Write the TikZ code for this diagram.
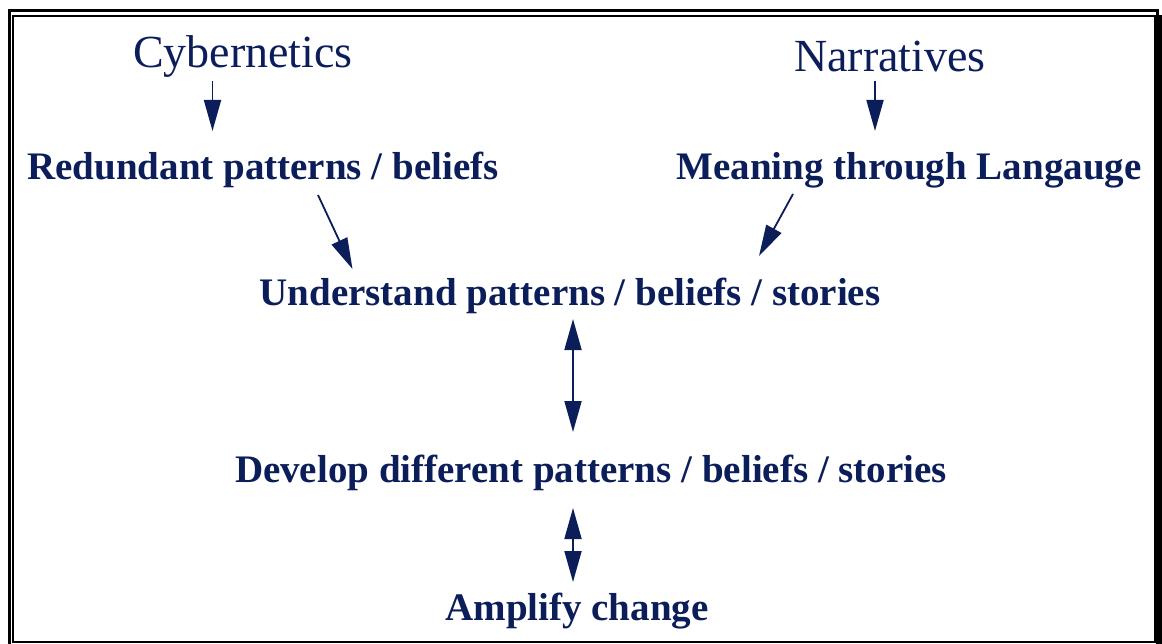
\documentclass[tikz,border=0pt]{standalone}
\usepackage{fontspec}
\setmainfont{Liberation Serif}
\usetikzlibrary{arrows.meta}
\definecolor{navy}{RGB}{12,30,90}
\tikzset{
  title/.style={text=navy, font=\fontsize{46}{50}\selectfont, anchor=base, inner sep=0pt},
  label/.style={text=navy, font=\bfseries\fontsize{39}{44}\selectfont, anchor=base, inner sep=0pt},
  arr/.style={draw=navy, line width=1.8pt, -{Triangle[length=31pt,width=17pt]}},
  darr/.style={draw=navy, line width=1.8pt, {Triangle[length=31pt,width=17pt]}-{Triangle[length=31pt,width=17pt]}},
}
\begin{document}
\begin{tikzpicture}[x=1pt,y=-1pt]
\useasboundingbox (0,0) rectangle (1162,644);
% frame
\draw[line width=3pt] (9,11) rectangle (1157,650);
\fill (1157,15) rectangle (1161.5,650);
\draw[line width=2pt] (13.3,15.6) rectangle (1154.7,642);
% texts
\node[title] (cyb) at (243,68) {Cybernetics};
\node[title] (nar) at (890,72) {Narratives};
\node[label] (red) at (263,180) {Redundant patterns / beliefs};
\node[label] (mea) at (909,180) {Meaning through Langauge};
\node[label] (und) at (570,306) {Understand patterns / beliefs / stories};
\node[label] (dev) at (591,482) {Develop different patterns / beliefs / stories};
\node[label] (amp) at (577,620) {Amplify change};
% connector endpoints
\coordinate (c1s) at (212.5,81);
\coordinate (c1e) at (212.5,131);
\coordinate (c2s) at (875,81);
\coordinate (c2e) at (875,131);
\coordinate (d1s) at (318,195);
\coordinate (d1e) at (352.5,269);
\coordinate (d2s) at (793,194);
\coordinate (d2e) at (759,256);
\coordinate (v1s) at (573,319);
\coordinate (v1e) at (573,432);
\coordinate (v2s) at (573,508);
\coordinate (v2e) at (573,582);
\draw[arr] (c1s) -- (c1e);
\draw[arr] (c2s) -- (c2e);
\draw[arr] (d1s) -- (d1e);
\draw[arr] (d2s) -- (d2e);
\draw[darr] (v1s) -- (v1e);
\draw[darr] (v2s) -- (v2e);
\end{tikzpicture}
\end{document}
